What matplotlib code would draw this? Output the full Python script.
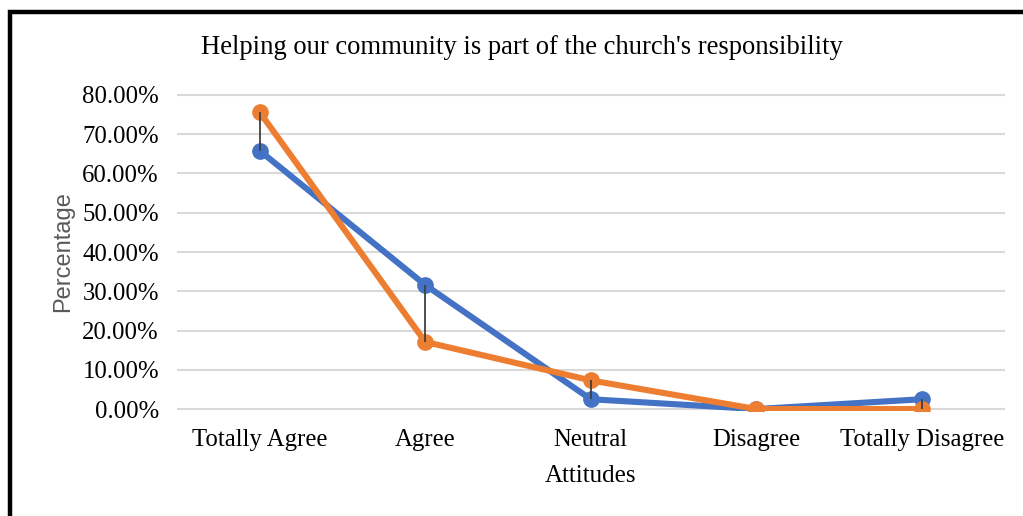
import matplotlib.pyplot as plt
from matplotlib.patches import Rectangle
from matplotlib.ticker import FuncFormatter

categories = ['Totally Agree', 'Agree', 'Neutral', 'Disagree', 'Totally Disagree']
series_a = [65.8, 31.6, 2.5, 0.0, 2.5]
series_b = [75.6, 17.1, 7.3, 0.0, 0.0]
yticks = [0, 10, 20, 30, 40, 50, 60, 70, 80]

serif = ['Liberation Serif', 'DejaVu Serif']
sans = ['Liberation Sans', 'DejaVu Sans']

fig = plt.figure(figsize=(10.23, 5.16), dpi=100)
ax = fig.add_axes([0.173, 0.2027, 0.809, 0.6178])

x = list(range(len(categories)))
ax.plot(x, series_a, color='#4472C4', lw=4.4, marker='o', ms=11, zorder=3,
        solid_capstyle='round')
ax.plot(x, series_b, color='#ED7D31', lw=4.4, marker='o', ms=11, zorder=4,
        solid_capstyle='round')
# high-low lines between the two series
ax.vlines(x, [min(a, b) for a, b in zip(series_a, series_b)],
          [max(a, b) for a, b in zip(series_a, series_b)],
          color='#404040', lw=1.3, zorder=5)

ax.set_xlim(-0.5, len(categories) - 0.5)
ax.set_ylim(-0.6, 80.6)
ax.set_yticks(yticks)
ax.yaxis.set_major_formatter(FuncFormatter(lambda v, p: f'{v:.2f}%'))
ax.set_xticks(x)
ax.set_xticklabels(categories)
ax.grid(axis='y', color='#D9D9D9', lw=1.5)
ax.set_axisbelow(True)
for s in ax.spines.values():
    s.set_visible(False)
ax.tick_params(length=0, labelsize=17.8)
ax.tick_params(axis='y', pad=13)
ax.tick_params(axis='x', pad=12.5)
for lab in ax.get_xticklabels() + ax.get_yticklabels():
    lab.set_family(serif)

fig.text(522 / 1023, 1 - 48 / 516,
         "Helping our community is part of the church's responsibility",
         family=serif, fontsize=19.2, ha='center', va='center')
ax.set_xlabel('Attitudes', family=serif, fontsize=18, labelpad=10.5)
ax.set_ylabel('Percentage', family=sans, fontsize=17, color='#595959')
ax.yaxis.set_label_coords(-0.124, 0.5)

fig.patches.append(Rectangle((10 / 1023, -0.1), 1.2, 1 - 12 / 516 + 0.1,
                             transform=fig.transFigure, fill=False,
                             ec='black', lw=3.2))

fig.savefig('out.png', dpi=100)
